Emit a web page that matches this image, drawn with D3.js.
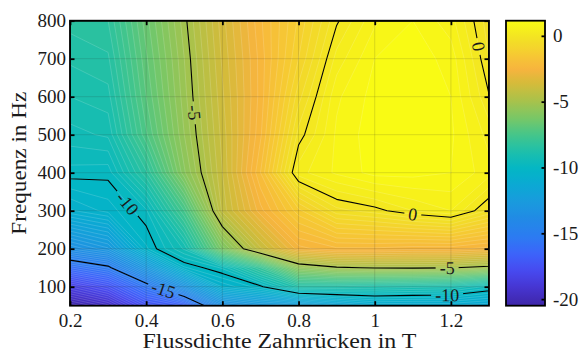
<!DOCTYPE html>
<html>
<head>
<meta charset="utf-8">
<script src="https://cdn.jsdelivr.net/npm/d3@7"></script>
<style>
  body { margin: 0; background: #fff; }
  svg { display: block; }
  text { font-family: "Liberation Serif", "DejaVu Serif", "Times New Roman", serif; fill: #1a1a1a; }
</style>
</head>
<body>
<div id="chart"></div>
<script>
// Grid: flux density (T) across, frequency (Hz) up
const xs = [0.2, 0.3, 0.4, 0.5, 0.6, 0.7, 0.8, 0.9, 1.0, 1.1, 1.2, 1.3];
const ys = [50, 100, 150, 200, 300, 400, 500, 600, 700, 800];

// One row per frequency, columns follow xs
const z050 = [-20.5, -19.6, -17.5, -16.7, -13.5, -12.8, -12.5, -11.8, -11.25, -11.3, -11.27, -11.5];
const z100 = [-18.5, -17.5, -15.5, -13.2, -10.7, -10.1, -8.67, -8.7, -8.8, -8.9, -9.0, -9.6];
const z150 = [-16.0, -15.2, -12.8, -10.3, -9.7, -8.0, -5.6, -5.08, -4.95, -4.92, -4.97, -5.2];
const z200 = [-13.5, -12.8, -10.3, -9.2, -6.15, -4.06, -2.6, -2.3, -2.3, -2.4, -2.4, -2.6];
const z300 = [-10.8, -10.4, -9.8, -7.5, -4.17, -2.6, -1.34, -0.34, -0.12, 0.25, 0.5, -0.3];
const z400 = [-9.85, -9.9, -8.3, -5.8, -4.0, -2.0, 0.4, 0.8, 1.1, 1.1, 1.0, 0.6];
const z500 = [-9.35, -9.2, -7.3, -5.5, -3.9, -2.3, -0.15, 0.8, 1.15, 1.15, 1.05, 0.4];
const z600 = [-9.0, -8.85, -7.0, -5.35, -3.8, -2.4, -0.6, 0.7, 1.1, 1.15, 1.0, 0.02];
const z700 = [-8.7, -8.55, -6.8, -5.25, -3.7, -2.4, -1.0, 0.35, 1.0, 1.15, 0.9, -0.25];
const z800 = [-8.4, -8.25, -6.6, -5.1, -3.6, -2.3, -1.2, -0.05, 0.7, 1.0, 0.6, -0.4];
const rows = [z050, z100, z150, z200, z300, z400, z500, z600, z700, z800];

const xTicks = [0.2, 0.4, 0.6, 0.8, 1, 1.2];
const yTicks = [100, 200, 300, 400, 500, 600, 700, 800];
const cTicks = [-20, -15, -10, -5, 0];
const lineLevels = [-15, -10, -5, 0];

// Contour labels: level and rough spot where it sits (data units)
const labelLevels = [-15, -10, -5, -10, -5, 0, 0];
const labelX = [0.445, 0.351, 0.53, 1.19, 1.19, 1.10, 1.272];
const labelY = [93, 319, 558, 81, 149, 291, 732];

// parula-like colormap
const parulaStops = [0, 0.06, 0.12, 0.18, 0.24, 0.30, 0.36, 0.42, 0.48, 0.54, 0.60, 0.66, 0.72, 0.78, 0.83, 0.88, 0.93, 1];
const parulaColors = ["#3e26a8", "#4634cf", "#4749ef", "#3d63fa", "#2c7bf2", "#2289e6", "#1a99de", "#0ca8d4",
  "#03b6c5", "#1dbfab", "#45c68a", "#7ac765", "#aac24a", "#d5bb3a", "#f7b43e", "#f6c933", "#f2df26", "#f9fb14"];

const W = 581, H = 353;
const plot = { left: 70, right: 489, top: 20.7, bottom: 305.7 };
const bar = { left: 506, right: 545 };
const serif = '"Liberation Serif", "DejaVu Serif", "Times New Roman", serif';

const values = [].concat(...rows);
const nx = xs.length, ny = ys.length;
const zMin = d3.min(values), zMax = d3.max(values);

const x = d3.scaleLinear().domain([0.2, 1.3]).range([plot.left, plot.right]);
const y = d3.scaleLinear().domain([50, 800]).range([plot.bottom, plot.top]);
const c = d3.scaleLinear().domain([zMin, zMax]).range([plot.bottom, plot.top]);
const color = d3.scaleLinear()
  .domain(parulaStops.map((t) => zMin + t * (zMax - zMin)))
  .range(parulaColors)
  .clamp(true);

// grid index -> data value (grid is not evenly spaced in y)
const xAt = d3.scaleLinear().domain(d3.range(nx)).range(xs).clamp(true);
const yAt = d3.scaleLinear().domain(d3.range(ny)).range(ys).clamp(true);
function toPx(p) {
  return [x(xAt(p[0] - 0.5)), y(yAt(p[1] - 0.5))];
}
const path = d3.geoPath(d3.geoTransform({
  point(px, py) {
    const q = toPx([px, py]);
    this.stream.point(q[0], q[1]);
  }
}));

const svg = d3.select("#chart").append("svg").attr("width", W).attr("height", H);
const defs = svg.append("defs");
defs.append("clipPath").attr("id", "plotClip")
  .append("rect")
  .attr("x", plot.left).attr("y", plot.top)
  .attr("width", plot.right - plot.left).attr("height", plot.bottom - plot.top);

// Filled bands
const step = 0.25;
const fillLevels = d3.range(zMin, zMax, step);
const fills = d3.contours().size([nx, ny]).thresholds(fillLevels)(values);

svg.append("g")
  .attr("clip-path", "url(#plotClip)")
  .selectAll("path")
  .data(fills)
  .join("path")
  .attr("d", path)
  .attr("fill", (d) => color(d.value + step / 2))
  .attr("stroke", "rgba(255,255,255,0.32)")
  .attr("stroke-width", 0.5);

// Black iso lines, with gaps where the labels go
const lines = d3.contours().size([nx, ny]).thresholds(lineLevels)(values);

const mask = defs.append("mask").attr("id", "gaps").attr("maskUnits", "userSpaceOnUse")
  .attr("x", 0).attr("y", 0).attr("width", W).attr("height", H);
mask.append("rect").attr("width", W).attr("height", H).attr("fill", "white");

svg.append("g")
  .attr("clip-path", "url(#plotClip)")
  .append("g")
  .attr("mask", "url(#gaps)")
  .selectAll("path")
  .data(lines)
  .join("path")
  .attr("d", path)
  .attr("fill", "none")
  .attr("stroke", "#000")
  .attr("stroke-width", 1.1)
  .attr("stroke-linejoin", "round");

function onFrame(ax, ay, bx, by) {
  const e = 0.01;
  return (Math.abs(ax - plot.left) < e && Math.abs(bx - plot.left) < e) ||
    (Math.abs(ax - plot.right) < e && Math.abs(bx - plot.right) < e) ||
    (Math.abs(ay - plot.top) < e && Math.abs(by - plot.top) < e) ||
    (Math.abs(ay - plot.bottom) < e && Math.abs(by - plot.bottom) < e);
}

// snap a label onto its line and take the local direction
function placeOnLine(contour, px, py) {
  let best = null;
  contour.coordinates.forEach((poly) => poly.forEach((ring) => {
    const pts = ring.map(toPx);
    for (let i = 1; i < pts.length; i++) {
      const [ax, ay] = pts[i - 1], [bx, by] = pts[i];
      if (onFrame(ax, ay, bx, by)) continue;
      const dx = bx - ax, dy = by - ay, len2 = dx * dx + dy * dy;
      if (!len2) continue;
      const t = Math.max(0, Math.min(1, ((px - ax) * dx + (py - ay) * dy) / len2));
      const qx = ax + t * dx, qy = ay + t * dy;
      const d2 = (px - qx) ** 2 + (py - qy) ** 2;
      if (!best || d2 < best.d2) best = { x: qx, y: qy, angle: Math.atan2(dy, dx) * 180 / Math.PI, d2 };
    }
  }));
  let a = best.angle;
  if (a > 90) a -= 180;
  if (a <= -90) a += 180;
  return { x: best.x, y: best.y, angle: a };
}

const gLabels = svg.append("g");
labelLevels.forEach((lv, i) => {
  const contour = lines.find((l) => l.value === lv);
  const p = placeOnLine(contour, x(labelX[i]), y(labelY[i]));
  const tr = `translate(${p.x},${p.y}) rotate(${p.angle})`;
  const t = gLabels.append("text")
    .attr("transform", tr)
    .attr("text-anchor", "middle")
    .attr("dy", "0.34em")
    .attr("font-family", serif)
    .attr("font-size", 18)
    .text(String(lv));
  const w = t.node().getComputedTextLength() + 8;
  mask.append("rect")
    .attr("transform", tr)
    .attr("x", -w / 2).attr("y", -8)
    .attr("width", w).attr("height", 16)
    .attr("fill", "black");
});

// Grid lines on top of the fill
const grid = svg.append("g").attr("stroke", "#262626").attr("stroke-opacity", 0.15).attr("stroke-width", 1);
grid.selectAll(".gx").data(xTicks).join("line").attr("class", "gx")
  .attr("x1", (d) => x(d)).attr("x2", (d) => x(d))
  .attr("y1", plot.top).attr("y2", plot.bottom);
grid.selectAll(".gy").data(yTicks).join("line").attr("class", "gy")
  .attr("x1", plot.left).attr("x2", plot.right)
  .attr("y1", (d) => y(d)).attr("y2", (d) => y(d));

function styleAxis(sel, size) {
  sel.attr("font-family", serif);
  sel.select(".domain").remove();
  sel.selectAll(".tick line").attr("stroke", "#000").attr("stroke-width", 1.8);
  sel.selectAll("text")
    .attr("font-family", serif)
    .attr("font-size", size)
    .attr("fill", "#1a1a1a");
}

svg.append("g").attr("transform", `translate(0,${plot.bottom})`)
  .call(d3.axisBottom(x).tickValues(xTicks).tickFormat((d) => String(d)).tickSize(-4.5).tickPadding(8))
  .call(styleAxis, 19);
svg.append("g").attr("transform", `translate(0,${plot.top})`)
  .call(d3.axisTop(x).tickValues(xTicks).tickFormat("").tickSize(-4.5))
  .call(styleAxis, 19);
svg.append("g").attr("transform", `translate(${plot.left},0)`)
  .call(d3.axisLeft(y).tickValues(yTicks).tickFormat((d) => String(d)).tickSize(-4.5).tickPadding(4))
  .call(styleAxis, 19);
svg.append("g").attr("transform", `translate(${plot.right},0)`)
  .call(d3.axisRight(y).tickValues(yTicks).tickFormat("").tickSize(-4.5))
  .call(styleAxis, 19);

svg.append("rect")
  .attr("x", plot.left).attr("y", plot.top)
  .attr("width", plot.right - plot.left).attr("height", plot.bottom - plot.top)
  .attr("fill", "none").attr("stroke", "#000").attr("stroke-width", 1.8);

// Colorbar
const grad = defs.append("linearGradient").attr("id", "cbar")
  .attr("x1", 0).attr("y1", 1).attr("x2", 0).attr("y2", 0);
d3.range(0, 1.0001, 1 / 64).forEach((t) => {
  grad.append("stop").attr("offset", t).attr("stop-color", color(zMin + t * (zMax - zMin)));
});
svg.append("rect")
  .attr("x", bar.left).attr("y", plot.top)
  .attr("width", bar.right - bar.left).attr("height", plot.bottom - plot.top)
  .attr("fill", "url(#cbar)");
svg.append("g").attr("transform", `translate(${bar.right},0)`)
  .call(d3.axisRight(c).tickValues(cTicks).tickFormat((d) => String(d)).tickSize(-3.5).tickPadding(8))
  .call(styleAxis, 19);
svg.append("rect")
  .attr("x", bar.left).attr("y", plot.top)
  .attr("width", bar.right - bar.left).attr("height", plot.bottom - plot.top)
  .attr("fill", "none").attr("stroke", "#000").attr("stroke-width", 1.8);

// Axis titles
svg.append("text")
  .attr("x", (plot.left + plot.right) / 2).attr("y", 348)
  .attr("text-anchor", "middle")
  .attr("font-family", serif)
  .attr("font-size", 20)
  .attr("textLength", 274).attr("lengthAdjust", "spacingAndGlyphs")
  .text("Flussdichte Zahnrücken in T");
svg.append("text")
  .attr("transform", `translate(26,${(plot.top + plot.bottom) / 2}) rotate(-90)`)
  .attr("text-anchor", "middle")
  .attr("font-family", serif)
  .attr("font-size", 20)
  .attr("textLength", 143).attr("lengthAdjust", "spacingAndGlyphs")
  .text("Frequenz in Hz");
</script>
</body>
</html>
